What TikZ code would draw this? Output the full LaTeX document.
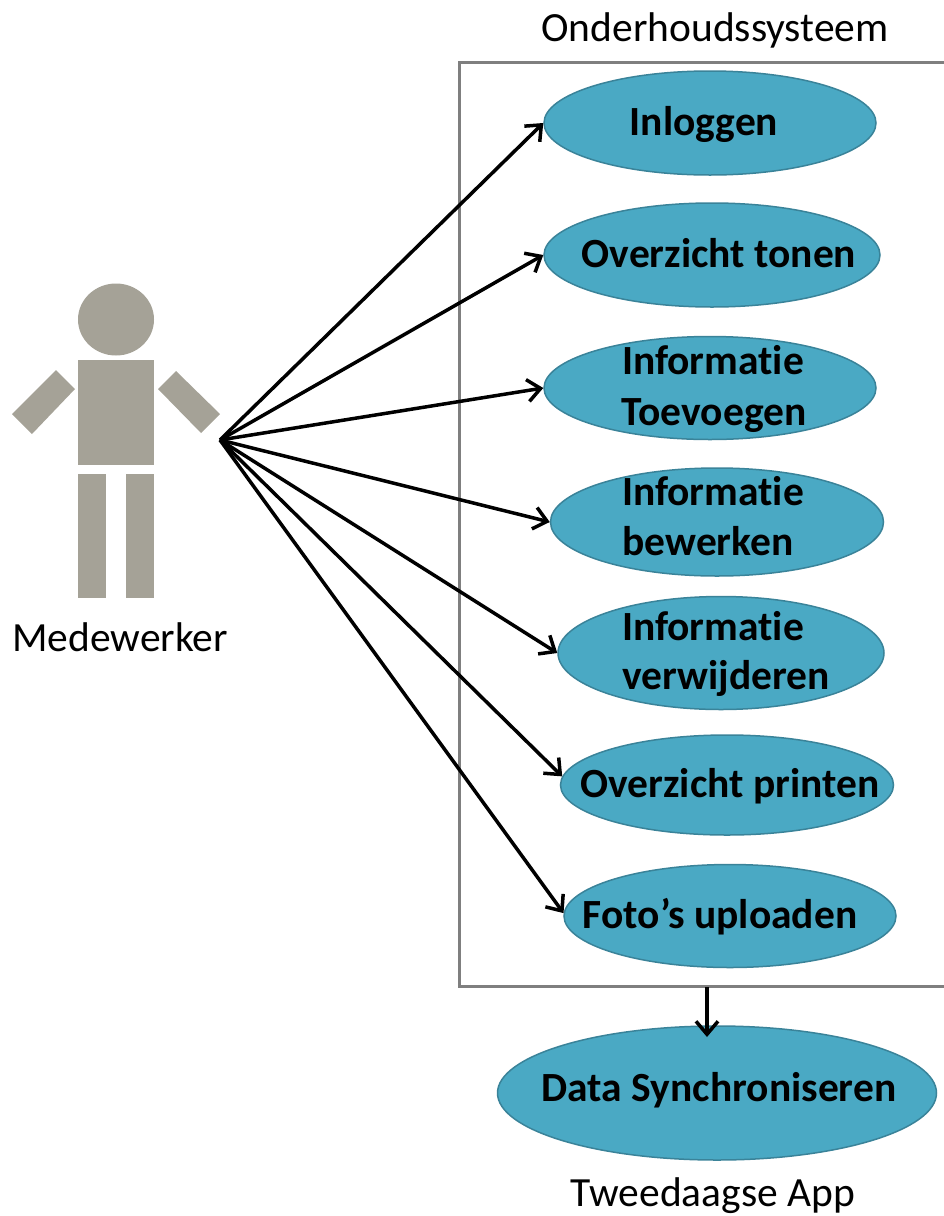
\documentclass[tikz,border=0pt]{standalone}
\usepackage{fontspec}
\setmainfont[Ligatures=NoCommon]{Carlito}
\usetikzlibrary{shapes.geometric,arrows.meta}
\definecolor{figgrey}{HTML}{A5A297}
\definecolor{ucfill}{HTML}{4AA9C4}
\definecolor{ucline}{HTML}{3A8399}
\definecolor{boxline}{HTML}{7F7F7F}
\tikzset{
  usecase/.style={ellipse,draw=ucline,line width=1.5pt,fill=ucfill,inner sep=0pt},
  uctext/.style={anchor=base,inner sep=0pt,font=\fontsize{41.5}{41.5}\selectfont\bfseries,text=black},
  plaintext/.style={anchor=base,inner sep=0pt,font=\fontsize{41.5}{41.5}\selectfont,text=black},
  link/.style={draw=black,line width=3.5pt,-{Straight Barb[length=13pt,width=22pt,line width=3.5pt]}},
  figpart/.style={fill=figgrey,draw=none},
  sysbox/.style={draw=boxline,line width=3pt}
}
\begin{document}
\begin{tikzpicture}[x=1pt,y=-1pt]
\useasboundingbox (0,0) rectangle (943,1216);
% system box (runs off the right edge)
\draw[sysbox,line join=miter] (945,62) -- (459,62) -- (459,986) -- (945,986);
% actor
\fill[figpart] (116,319.5) ellipse [x radius=38,y radius=36];
\fill[figpart] (78,360) rectangle (154,465);
\fill[figpart] (78,474) rectangle (106,598);
\fill[figpart] (126,474) rectangle (154,598);
\fill[figpart] (56,370) -- (75,389) -- (32,434) -- (12,414) -- cycle;
\fill[figpart] (176,371) -- (158,389) -- (201,433) -- (220,414) -- cycle;
% use cases
\node[usecase,minimum width=332pt,minimum height=104pt] (a) at (710,123) {};
\node[usecase,minimum width=336pt,minimum height=104pt] (b) at (712,255) {};
\node[usecase,minimum width=332pt,minimum height=103pt] (c) at (710,388) {};
\node[usecase,minimum width=333pt,minimum height=108pt] (d) at (717,522) {};
\node[usecase,minimum width=326pt,minimum height=113pt] (e) at (721,653) {};
\node[usecase,minimum width=333pt,minimum height=100pt] (f) at (727,785) {};
\node[usecase,minimum width=332pt,minimum height=103pt] (g) at (730,916) {};
\node[usecase,minimum width=439pt,minimum height=134pt] (h) at (717,1093) {};
% connectors
\coordinate (src) at (220,440);
\coordinate (boxbottom) at (707,987);
\coordinate (hin) at (707,1037);
\path[link] (src) -- (a.west);
\path[link] (src) -- (b.west);
\path[link] (src) -- (c.west);
\path[link] (src) -- (d.west);
\path[link] (src) -- (e.west);
\path[link] (src) -- (f.177);
\path[link] (src) -- (g.179);
\path[link] (boxbottom) -- (hin);
% labels
\node[plaintext] (t0) at (715,41) {Onderhoudssysteem};
\node[plaintext] (t1) at (120,651) {Medewerker};
\node[plaintext] (t2) at (713,1206) {Tweedaagse App};
\node[uctext] (la) at (704,135) {Inloggen};
\node[uctext] (lb) at (719,267) {Overzicht tonen};
\node[uctext] (lc1) at (713,374) {Informatie};
\node[uctext] (lc2) at (714,425) {Toevoegen};
\node[uctext] (ld1) at (713,505) {Informatie};
\node[uctext] (ld2) at (708,555) {bewerken};
\node[uctext] (le1) at (713,640) {Informatie};
\node[uctext] (le2) at (726,689) {verwijderen};
\node[uctext] (lf) at (730,797) {Overzicht printen};
\node[uctext] (lg) at (720,928) {Foto’s uploaden};
\node[uctext] (lh) at (719,1101) {Data Synchroniseren};
\end{tikzpicture}
\end{document}
